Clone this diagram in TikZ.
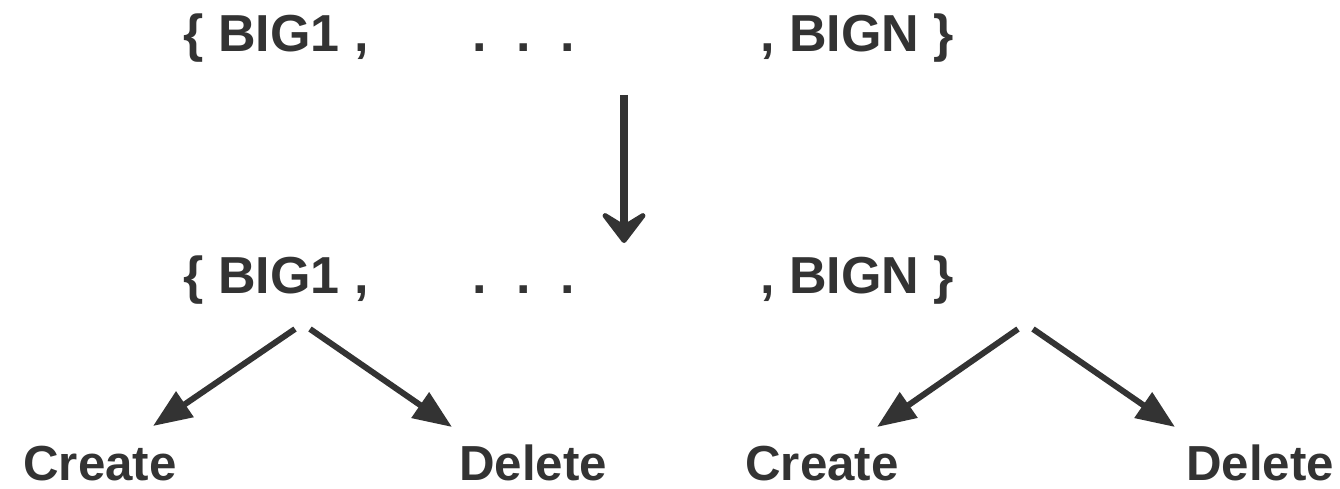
\documentclass[tikz,border=0pt]{standalone}
\usepackage{fontspec}
\setmainfont{Liberation Sans}
\usetikzlibrary{arrows.meta, calc}
\definecolor{ink}{HTML}{333333}

\begin{document}
\begin{tikzpicture}[
                    x=0.01cm, y=-0.01cm,
                    set/.style={inner sep=0, anchor=base, text=ink, font=\fontsize{14.8pt}{17pt}\selectfont\bfseries},
                    leaf/.style={inner sep=0, anchor=base, text=ink, font=\fontsize{14pt}{16pt}\selectfont\bfseries},
                    down/.style={draw=ink, line width=2.3pt, -{Stealth[length=10.8pt, width=16.4pt, inset=5pt, round]}},
                    split/.style={draw=ink, line width=1.7pt, -{Triangle[length=11pt, width=8.5pt]}}
                ]
                    \useasboundingbox (0,0) rectangle (1340,488);

                    % set before
                    \node [set] (big1a) at (276,52) {\{ BIG1 ,};
                    \node [set] (dotsa) at (524,52) {.\hspace{0.57em}.\hspace{0.57em}.};
                    \node [set] (bigna) at (857,52) {, BIGN \}};

                    % set after
                    \node [set] (big1b) at (276,293) {\{ BIG1 ,};
                    \node [set] (dotsb) at (524,293) {.\hspace{0.57em}.\hspace{0.57em}.};
                    \node [set] (bignb) at (857,293) {, BIGN \}};

                    % outcomes
                    \node [leaf] (createa) at (100,480) {Create};
                    \node [leaf] (deletea) at (533,480) {Delete};
                    \node [leaf] (createb) at (822,480) {Create};
                    \node [leaf] (deleteb) at (1260,480) {Delete};

                    \coordinate (maptop) at (624,95);
                    \coordinate (mapend) at (624,243);
                    \path [down] (maptop) -- (mapend);

                    % forks
                    \coordinate (forka) at (295,329);
                    \coordinate (forkb) at (310,329);
                    \coordinate (forkc) at (1018,329);
                    \coordinate (forkd) at (1033,329);
                    \path [split] (forka) -- ($(createa.base)+(53,-54)$);
                    \path [split] (forkb) -- ($(deletea.base)+(-81,-53)$);
                    \path [split] (forkc) -- ($(createb.base)+(55,-53)$);
                    \path [split] (forkd) -- ($(deleteb.base)+(-85,-53)$);
                \end{tikzpicture}
\end{document}
